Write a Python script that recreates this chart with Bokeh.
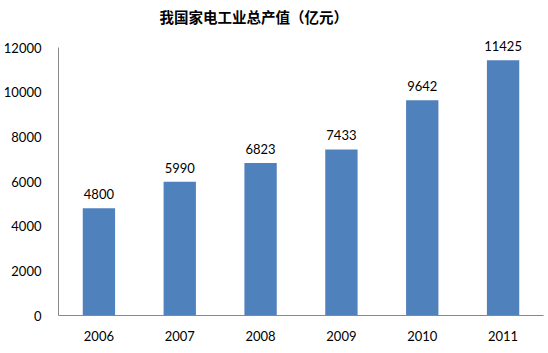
from bokeh.plotting import figure
from bokeh.models import ColumnDataSource, LabelSet, FixedTicker, Range1d
from bokeh.core.properties import value
from bokeh.embed import file_html
from bokeh.resources import INLINE

years = ["2006", "2007", "2008", "2009", "2010", "2011"]
values = [4800, 5990, 6823, 7433, 9642, 11425]
y_ticks = [0, 2000, 4000, 6000, 8000, 10000, 12000]
title_text = "我国家电工业总产值（亿元）"

src = ColumnDataSource(dict(x=years, top=values, label=[str(v) for v in values]))

# frame spans 0..12000 over 268 px; extra headroom above for labels
top_px = 22
y_end = 12000 + (47 - top_px) * 12000 / 268

p = figure(x_range=years, y_range=Range1d(0, y_end), width=548, height=353,
           output_backend="svg", toolbar_location=None,
           min_border_left=57, min_border_right=5, min_border_top=top_px, min_border_bottom=38)
p.outline_line_color = None
p.xgrid.grid_line_color = None
p.ygrid.grid_line_color = None
p.x_range.range_padding = 0

p.vbar(x="x", top="top", width=0.4, source=src, color="#4F81BD", line_color=None)
p.add_layout(LabelSet(x="x", y="top", text="label", source=src, text_align="center",
                      text_baseline="bottom", y_offset=9, text_font=value("Lato"),
                      text_font_size="13px", text_color="#000000"))

for ax in (p.xaxis[0], p.yaxis[0]):
    ax.axis_line_color = "#888888"
    ax.major_tick_line_color = None
    ax.minor_tick_line_color = None
    ax.major_tick_out = 0
    ax.major_tick_in = 0
    ax.minor_tick_out = 0
    ax.minor_tick_in = 0
    ax.major_label_text_font = "Lato"
    ax.major_label_text_font_size = "13px"
    ax.major_label_text_color = "#000000"
p.yaxis.ticker = FixedTicker(ticks=y_ticks)
p.yaxis.bounds = (0, 12000)
p.yaxis.major_label_standoff = 17
p.xaxis.major_label_standoff = 15

p.title.text = title_text
p.title.align = "left"
p.title.offset = 101
p.title.text_font = "Noto Sans CJK SC"
p.title.text_font_size = "14.5px"
p.title.text_font_style = "bold"
p.title.text_color = "#000000"
p.title.standoff = -8

open("out.html", "w").write(file_html(p, INLINE))
